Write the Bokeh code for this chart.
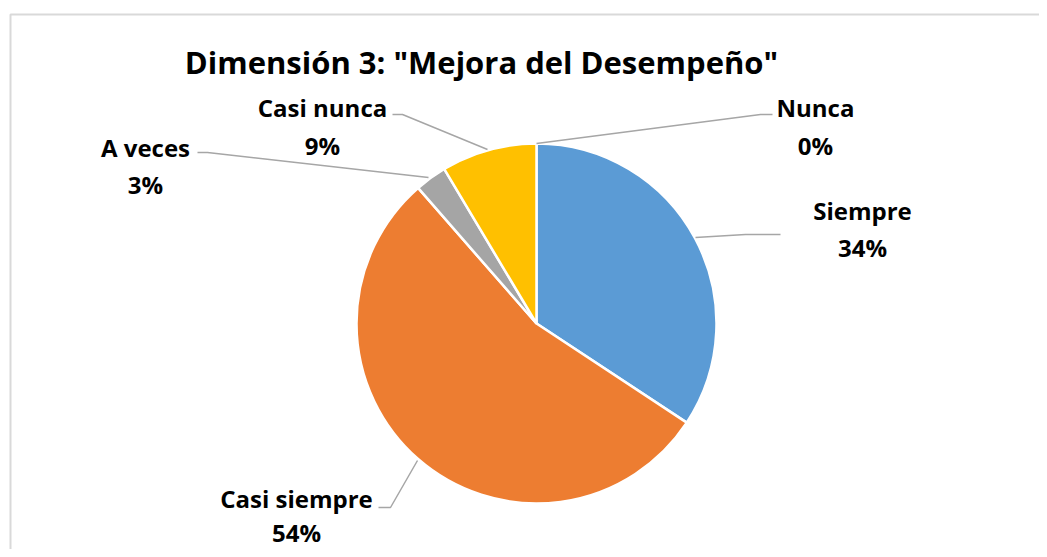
import math
from bokeh.plotting import figure
from bokeh.models import Range1d, ColumnDataSource
from bokeh.core.properties import value
from bokeh.embed import file_html
from bokeh.resources import INLINE

# ---- data ----
categories = ["Siempre", "Casi siempre", "A veces", "Casi nunca", "Nunca"]
counts = [12, 19, 1, 3, 0]
colors = ["#5B9BD5", "#ED7D31", "#A5A5A5", "#FFC000", "#4472C4"]
title = 'Dimensión 3: "Mejora del Desempeño"'

W, H = 1039, 549
def px(x):  # page x -> data x
    return x
def py(y):  # page y -> data y
    return H - y

p = figure(width=W, height=H, output_backend="svg", toolbar_location=None,
           x_range=Range1d(0, W), y_range=Range1d(0, H), min_border=0)
p.axis.visible = False
p.grid.visible = False
p.outline_line_color = None
p.background_fill_color = "white"
p.border_fill_color = "white"

# chart border
p.line([px(10), px(10), px(1060)], [py(600), py(14), py(14)], line_color="#D9D9D9", line_width=2)

# pie
total = sum(counts)
cx, cy, r = px(536), py(323), 180
starts, ends = [], []
cum = 0.0
for c in counts:
    a0 = math.pi / 2 - 2 * math.pi * (cum + c) / total
    a1 = math.pi / 2 - 2 * math.pi * cum / total
    starts.append(a0)
    ends.append(a1)
    cum += c
nz = [i for i, c in enumerate(counts) if c > 0]
src_nz = ColumnDataSource(dict(start=[starts[i] for i in nz], end=[ends[i] for i in nz],
                               color=[colors[i] for i in nz],
                               x=[cx] * len(nz), y=[cy] * len(nz)))
p.wedge(x="x", y="y", radius=r, start_angle="start", end_angle="end",
        fill_color="color", line_color="white", line_width=2.5, source=src_nz)

# leader lines (page coords)
leaders = {
    "Siempre": [(695, 237), (745, 234), (780, 234)],
    "Casi siempre": [(417, 460), (390, 507), (378, 507)],
    "A veces": [(428, 177), (207, 152), (197, 152)],
    "Casi nunca": [(487, 149), (402, 114), (392, 114)],
    "Nunca": [(536, 143), (760, 114), (772, 114)],
}
label_pos = {
    "Siempre": (862, 210, 247),
    "Casi siempre": (296, 498, 532),
    "A veces": (145, 147, 184),
    "Casi nunca": (322, 107, 145),
    "Nunca": (815, 107, 145),
}
for cat, pts in leaders.items():
    p.line([px(a) for a, b in pts], [py(b) for a, b in pts], line_color="#A6A6A6", line_width=1.5)

lx, ly, lt = [], [], []
for cat, c in zip(categories, counts):
    x, y1, y2 = label_pos[cat]
    pct = f"{round(100 * c / total)}%"
    lx += [px(x), px(x)]
    ly += [py(y1), py(y2)]
    lt += [cat, pct]
p.text(x=lx, y=ly, text=lt, text_font=value("Open Sans"), text_font_style="bold",
       text_font_size="24px", text_align="center", text_baseline="middle", text_color="black")

p.text(x=[px(481)], y=[py(61)], text=[title], text_font=value("Open Sans"),
       text_font_style="bold", text_font_size="31px", text_align="center",
       text_baseline="middle", text_color="black")

open("out.html", "w").write(file_html(p, INLINE))
